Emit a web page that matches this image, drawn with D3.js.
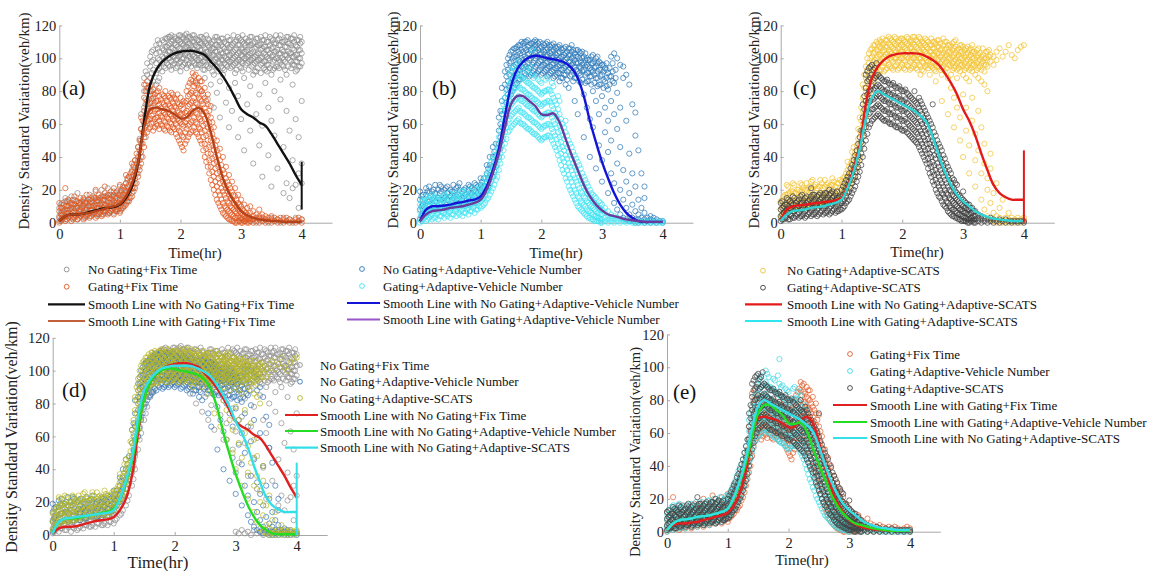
<!DOCTYPE html>
<html>
<head>
<meta charset="utf-8">
<script src="https://cdn.jsdelivr.net/npm/d3@7"></script>
<style>
body { margin: 0; background: #fff; }
svg { display: block; font-family: "Liberation Serif", "Times New Roman", serif; }
.axis path, .axis line { stroke: #a8a8a8; }
.axis text { fill: #222; font-size: 14.5px; font-family: "Liberation Serif", serif; }
</style>
</head>
<body>
<svg id="fig" width="1153" height="571"></svg>
<script>
// scatter clouds: each row is "time v v v ..."
var ngFix = [
  "0.00 1 4 9", "0.05 3 7 12", "0.10 2 6 10 15", "0.15 4 8 13", "0.20 3 7 11 16", "0.25 5 9 14",
  "0.30 2 6 10 18", "0.35 4 8 12", "0.40 3 7 11 15", "0.45 5 9 13", "0.50 4 8 12 17", "0.55 6 10 14",
  "0.60 5 9 13 19", "0.65 6 11 15", "0.70 5 10 14 20", "0.75 7 11 16", "0.80 6 10 15 21", "0.85 7 12 17",
  "0.90 6 11 16 19", "0.95 8 13 18", "1.00 7 12 17 22", "1.05 10 15 21", "1.10 12 18 24", "1.15 15 21 28",
  "1.20 18 25 32", "1.25 24 31 38", "1.30 30 38 46", "1.35 40 48 57 66", "1.40 52 60 70 80 88",
  "1.45 62 72 82 90 97", "1.50 70 80 88 95 101", "1.55 78 86 93 99 105", "1.60 84 91 97 103 108",
  "1.65 88 94 99 104 109", "1.70 92 97 101 106 111", "1.75 94 99 103 107 112", "1.80 96 100 104 108 113",
  "1.85 93 98 102 106 110 114", "1.90 97 101 105 109 113", "1.95 95 99 103 107 111",
  "2.00 92 98 102 106 110 114", "2.05 96 100 104 108 112", "2.10 94 99 103 107 111 115",
  "2.15 97 101 105 109 113", "2.20 98 102 106 110 114", "2.25 86 96 100 104 108 112",
  "2.30 96 99 103 107 111", "2.35 80 97 101 105 109 113", "2.40 88 93 98 102 106 110",
  "2.45 75 95 100 104 108 112", "2.50 84 96 101 105 109", "2.55 70 90 98 102 106 111",
  "2.60 79 95 100 104 108 113", "2.65 64 86 97 101 105 110", "2.70 90 94 99 103 107 112",
  "2.75 73 96 100 104 109", "2.80 58 82 98 102 106 111", "2.85 68 95 99 103 108",
  "2.90 85 91 97 101 105 110", "2.95 52 77 99 103 108 113", "3.00 2 63 94 98 102 106 111",
  "3.05 1 44 88 100 104 109", "3.10 3 72 97 101 105 110", "3.15 1 56 83 99 103 108 113",
  "3.20 2 36 90 96 100 104 109", "3.25 0 66 92 98 102 107 112", "3.30 3 47 78 99 103 108",
  "3.35 1 28 59 97 101 106 111", "3.40 2 85 93 98 102 107 114", "3.45 0 41 70 96 100 105 110",
  "3.50 3 22 62 90 101 106 112", "3.55 1 53 80 94 99 104 109", "3.60 2 33 95 100 105 111",
  "3.65 0 75 87 98 103 108 114", "3.70 3 18 46 95 99 104 110", "3.75 1 24 68 90 102 107 113",
  "3.80 2 15 56 99 103 109", "3.85 0 21 38 84 96 101 106 112", "3.90 3 23 63 92 98 102 108",
  "3.95 1 9 30 52 95 100 105 111", "4.00 2 24 36 74 97 103 110",
  "0.025 2 6 11", "0.125 4 8 13", "0.225 3 9 14", "0.325 5 8 12", "0.425 4 9 13", "0.525 6 10 15",
  "0.625 5 9 14", "0.725 7 11 16", "0.825 6 12 17", "0.925 8 12 16", "1.025 9 14 19", "1.125 13 19 26",
  "1.225 21 28 35", "1.325 34 42 51", "1.425 58 66 75 84 92", "1.525 74 84 91 98 104", "1.625 86 93 100 106 111",
  "1.725 95 100 105 110", "1.775 97 102 107 112", "1.825 95 100 104 109 113", "1.875 96 101 106 111",
  "1.925 94 99 103 108 112", "1.975 97 101 106 111 114", "2.025 95 100 104 109 113", "2.075 97 102 106 110 114",
  "2.125 96 101 105 109 113", "2.175 95 100 104 108 112", "2.225 97 101 105 110 114", "2.275 94 99 103 107 111",
  "2.325 96 100 105 109 113", "2.375 93 98 103 108 112", "2.425 96 100 104 109 114", "2.475 94 99 103 107 111",
  "2.525 92 97 102 106 110", "2.575 95 99 104 108 113", "2.625 92 98 102 107 111", "2.675 95 99 103 108 112",
  "2.725 93 97 101 106 110", "2.775 95 99 104 108 113", "2.825 94 98 102 107 111", "2.875 96 100 104 109 114",
  "2.925 93 98 102 106 111", "2.975 95 99 104 108 112", "3.025 92 97 101 105 110 114", "3.075 96 100 104 108 112",
  "3.125 93 98 102 107 111", "3.175 95 99 103 108 113", "3.225 92 97 101 106 110", "3.275 94 99 103 108 112",
  "3.325 91 96 100 105 109 113", "3.375 94 98 103 107 111", "3.425 92 96 101 105 110", "3.475 94 99 103 108 113",
  "3.525 93 98 102 107 111", "3.575 95 100 104 109 114", "3.625 94 99 103 108 112", "3.675 96 100 105 110",
  "3.725 93 98 102 107 111", "3.775 95 100 104 109 113", "3.825 94 98 103 108 112", "3.875 96 101 105 110 114",
  "3.925 93 98 102 107 111", "3.975 95 100 105 109 113"
];
var gFix = [
  "0.00 0 3 7 12", "0.05 2 5 9", "0.10 1 4 8 13 21", "0.15 3 6 10 14", "0.20 1 5 9 12", "0.25 3 7 11 16",
  "0.30 2 5 9 13", "0.35 4 7 11 15", "0.40 2 6 10 14", "0.45 4 8 12 17", "0.50 3 6 10 14", "0.55 5 8 12 16",
  "0.60 3 7 11 15 20", "0.65 5 9 13 17", "0.70 4 8 12 16", "0.75 6 10 14 18 22", "0.80 5 9 13 17",
  "0.85 7 10 14 19", "0.90 5 9 13 17 21", "0.95 7 11 15 19", "1.00 6 10 14 18 23", "1.05 9 13 17 22",
  "1.10 11 15 19 24 29", "1.15 13 18 23 28", "1.20 16 21 26 31 36", "1.25 21 27 33 38", "1.30 28 34 40 46",
  "1.35 36 43 50 57 64", "1.40 46 54 61 68 76 84", "1.45 55 62 68 74 80 86", "1.50 58 63 68 73 78 83",
  "1.55 56 61 66 71 76 81", "1.60 60 64 69 74 79", "1.65 57 62 67 72 77 82", "1.70 59 64 68 73 78",
  "1.75 56 61 66 71 76 80", "1.80 58 63 67 72 77", "1.85 55 60 65 70 75 79", "1.90 57 62 66 71 76",
  "1.95 52 58 63 68 73 78", "2.00 48 55 61 66 71 76", "2.05 44 52 59 64 69 74", "2.10 50 57 63 68 74 80",
  "2.15 54 60 66 72 78 85", "2.20 56 62 68 74 80 86 91", "2.25 55 61 67 73 79 85 90",
  "2.30 52 58 64 70 76 82 88", "2.35 48 55 62 68 74 80 86", "2.40 40 48 56 63 70 76 82",
  "2.45 34 42 50 58 65 72 78", "2.50 26 34 42 50 57 64 71", "2.55 20 28 36 44 51 58", "2.60 14 22 30 37 44 50",
  "2.65 10 17 24 31 38 45", "2.70 6 12 19 25 32 40", "2.75 4 9 15 21 27 34", "2.80 2 7 12 17 23 29",
  "2.85 1 5 9 14 19 25", "2.90 0 3 7 11 16 21", "2.95 1 4 8 12 17", "3.00 0 3 6 10 14", "3.05 1 4 7 11",
  "3.10 0 2 5 9", "3.15 1 3 6 10", "3.20 0 2 4 7", "3.25 1 3 5", "3.30 0 2 4 8", "3.35 1 3 5", "3.40 0 2 4",
  "3.45 1 3", "3.50 0 2 4", "3.55 1 3", "3.60 0 2", "3.65 1 3", "3.70 0 2", "3.75 1 3", "3.80 0 2", "3.85 1",
  "3.90 0 2", "3.95 1 3", "4.00 0 2",
  "0.025 1 5 9", "0.075 3 7 11", "0.125 2 6 10", "0.175 4 8 12", "0.225 2 6 11", "0.275 4 9 13",
  "0.325 3 7 12", "0.375 5 9 13", "0.425 3 8 12", "0.475 5 10 14", "0.525 4 8 13", "0.575 6 10 15",
  "0.625 4 9 13", "0.675 6 11 15", "0.725 5 9 14", "0.775 7 11 16", "0.825 6 10 15", "0.875 8 12 16",
  "0.925 7 11 15", "0.975 8 12 17", "1.025 8 12 16 20", "1.075 10 15 20", "1.125 13 17 22 27",
  "1.175 15 20 25 30", "1.225 19 24 29 34", "1.275 24 30 36 42", "1.325 32 38 44 50", "1.375 40 48 55 62",
  "1.425 52 59 65 72 80", "1.475 57 63 69 75 82", "1.525 60 65 70 75 80", "1.575 58 63 68 73 78",
  "1.625 59 64 69 74 80", "1.675 60 65 70 75", "1.725 57 62 67 72 77", "1.775 59 64 69 74",
  "1.825 56 61 66 71 76", "1.875 58 63 68 73 78", "1.925 54 60 65 70 75", "1.975 50 56 62 67 72",
  "2.025 46 53 60 66 72", "2.075 48 55 61 67 73", "2.125 52 59 65 71 77 83", "2.175 55 61 67 73 79 87",
  "2.225 58 64 70 76 83 89", "2.275 54 60 66 72 78 84", "2.325 50 57 63 69 75 81 86", "2.375 44 52 59 66 72 78",
  "2.425 37 45 53 60 67 74", "2.475 30 38 46 54 61 68", "2.525 23 31 39 47 54 61", "2.575 17 25 33 40 47",
  "2.625 12 19 27 34 41", "2.675 8 14 21 28 35", "2.725 5 10 17 23 30", "2.775 3 8 13 19 25",
  "2.825 2 6 10 15 21", "2.875 1 4 8 12 17", "2.925 0 3 6 10 14", "2.975 1 3 7 11", "3.025 0 2 5 8",
  "3.075 1 3 6", "3.125 0 2 4"
];
var ngAvn = [
  "0.00 2 8 14 19", "0.05 5 11 17", "0.10 7 12 17 21", "0.15 8 13 18 22", "0.20 9 14 19", "0.25 8 13 18 23",
  "0.30 10 15 20", "0.35 9 14 19 22", "0.40 10 15 20", "0.45 9 14 18 22", "0.50 11 16 20", "0.55 10 15 19 23",
  "0.60 11 16 21", "0.65 12 16 20 24", "0.70 11 15 19", "0.75 12 17 21", "0.80 11 16 20 23", "0.85 13 17 21",
  "0.90 12 16 20 24", "0.95 14 18 22", "1.00 15 19 23 27", "1.05 18 22 27", "1.10 20 25 30 35",
  "1.15 24 29 35 40", "1.20 28 34 40 46", "1.25 34 41 48", "1.30 40 48 56 64", "1.35 50 58 66 74 82",
  "1.40 60 68 76 84 92", "1.45 70 78 86 93 100", "1.50 78 85 92 98 104", "1.55 82 89 95 101 106",
  "1.60 85 91 97 102 107", "1.65 87 93 98 103 108", "1.70 88 94 99 104 109", "1.75 90 95 100 105 110",
  "1.80 89 94 99 103 108", "1.85 91 96 101 105 109", "1.90 90 95 100 104 108 111", "1.95 92 97 101 105 109",
  "2.00 90 95 99 103 107", "2.05 92 96 100 104 108", "2.10 89 94 98 102 106 110", "2.15 91 95 99 103 107",
  "2.20 88 93 97 101 105 109", "2.25 90 94 98 102 106", "2.30 86 91 96 100 104 108", "2.35 88 93 97 101 105",
  "2.40 84 90 95 99 103 107", "2.45 82 93 98 102 106", "2.50 90 96 100 104 108", "2.55 74 88 95 99 103",
  "2.60 66 92 97 101 105", "2.65 85 90 94 98 103", "2.70 52 78 93 97 101", "2.75 70 86 91 96 100",
  "2.80 40 63 89 94 99", "2.85 58 80 92 97 102", "2.90 33 74 88 95 100", "2.95 47 66 84 93 98",
  "3.00 25 38 77 90 96", "3.05 55 70 86 94", "3.10 18 43 62 81 91", "3.15 30 50 74 89 101",
  "3.20 12 24 66 85 103", "3.25 8 36 57 79 100", "3.30 5 20 46 70 96", "3.35 3 14 32 88 95",
  "3.40 2 9 25 62 90", "3.45 1 5 18 42 84", "3.50 1 3 11 30 72", "3.55 0 2 7 22 53 67", "3.60 0 2 5 14 44",
  "3.65 1 3 9 30", "3.70 0 2 6 15 22", "3.75 1 3", "3.80 0 2 4", "3.85 1 3", "3.90 0 2", "3.95 1", "4.00 0 1",
  "0.025 4 10 16", "0.125 8 13 19", "0.225 10 15 20", "0.325 9 14 18 23", "0.425 11 16 21", "0.525 10 14 19",
  "0.625 12 17 22", "0.725 11 16 20", "0.825 13 18 22", "0.925 14 19 23", "1.025 17 21 25", "1.125 22 27 33",
  "1.225 31 37 43", "1.325 45 52 60 68", "1.425 65 73 81 89 96", "1.475 74 82 90 97 102", "1.525 80 88 94 100 105",
  "1.575 84 90 96 101 106", "1.625 87 93 99 104 108", "1.675 89 95 100 105 110", "1.725 91 96 101 106 110",
  "1.775 92 97 102 107 111", "1.825 90 95 100 105 109", "1.875 92 97 102 106 110", "1.925 91 96 101 106 110",
  "1.975 93 98 102 106 110", "2.025 91 96 101 105 109", "2.075 93 97 101 105 109", "2.125 90 95 100 104 108",
  "2.175 92 96 100 104 108", "2.225 89 94 99 103 107", "2.275 91 95 99 103 107", "2.325 88 93 97 101 106",
  "2.375 90 94 98 102 106", "2.425 87 92 96 100 104", "2.475 89 94 98 102 106", "2.525 86 92 97 101 105",
  "2.575 88 93 97 101 105", "2.625 86 91 95 100 104", "2.675 87 92 96 100 104", "2.725 85 90 95 99 103",
  "2.775 86 91 95 99", "2.825 84 89 93 97 101", "2.875 85 90 94 98", "2.925 83 88 92 97 101", "2.975 84 89 93 97",
  "3.025 82 87 92 96", "3.075 83 88 93 97", "3.125 84 89 94", "3.175 86 92 97", "3.225 88 93"
];
var gAvn = [
  "0.00 0 3 7 11", "0.05 2 5 9 13", "0.10 1 4 8 12 16", "0.15 3 6 10 14", "0.20 2 5 9 13 17", "0.25 3 7 11 15",
  "0.30 2 6 10 14", "0.35 4 7 11 15", "0.40 3 6 10 14 17", "0.45 4 8 12 16", "0.50 3 7 11 15", "0.55 5 9 13 17",
  "0.60 4 8 12 16", "0.65 5 9 13 17", "0.70 4 8 12 16 19", "0.75 6 10 14 18", "0.80 5 9 13 17",
  "0.85 7 11 15 19", "0.90 6 10 14 18", "0.95 8 12 16 20", "1.00 9 13 17 21", "1.05 11 15 20 25",
  "1.10 14 19 24 29", "1.15 17 22 28 34", "1.20 21 27 33 39", "1.25 26 32 38 44", "1.30 32 38 45 52",
  "1.35 40 47 54 61 68", "1.40 48 55 62 69 76", "1.45 55 62 69 76 83", "1.50 58 65 72 79 86 92",
  "1.55 60 67 74 81 88 95", "1.60 62 69 76 83 90", "1.65 61 68 75 82 89 96", "1.70 60 67 74 81 88",
  "1.75 58 65 72 79 86 93", "1.80 57 64 71 78 85", "1.85 55 62 69 76 83 90 105", "1.90 54 61 68 75 82 89",
  "1.95 52 59 66 73 80 87", "2.00 50 57 64 71 78 85", "2.05 52 59 66 73 80", "2.10 53 60 67 74 81 88",
  "2.15 52 59 66 73 80", "2.20 48 55 62 69 76 83", "2.25 44 51 58 65 72", "2.30 38 45 52 59 66 74",
  "2.35 32 39 46 53 60", "2.40 27 34 41 48 55 62", "2.45 22 29 36 43 50", "2.50 18 25 32 39 46",
  "2.55 14 20 27 34 41", "2.60 10 16 23 30 37", "2.65 8 13 19 26 33", "2.70 6 11 16 22 28",
  "2.75 4 8 13 18 24", "2.80 3 7 11 15 20", "2.85 2 5 9 13 17", "2.90 1 4 7 11 15", "2.95 1 3 6 9 13",
  "3.00 0 2 5 8 11", "3.05 1 3 6 9", "3.10 0 2 4 7", "3.15 1 3 5", "3.20 0 2 4", "3.25 1 3", "3.30 0 2",
  "3.35 1 2", "3.40 0 1", "3.45 1", "3.50 0 1", "3.55 0", "3.60 0 1", "3.65 0", "3.70 0 1", "3.75 0",
  "3.80 0 1", "3.85 0", "3.90 0 1", "3.95 0", "4.00 0 1",
  "0.025 1 5 9 13", "0.075 3 7 11 15", "0.125 2 6 10 14", "0.175 4 8 12 16", "0.225 3 7 11 15",
  "0.275 5 9 13 16", "0.325 4 8 12", "0.375 6 9 13 16", "0.425 5 9 12", "0.475 6 10 14 18", "0.525 5 9 13",
  "0.575 7 11 15 18", "0.625 6 10 14", "0.675 7 11 15 19", "0.725 6 10 14", "0.775 8 12 16 20", "0.825 7 11 15",
  "0.875 9 13 17 21", "0.925 8 12 16", "0.975 10 14 18 22", "1.025 10 14 18 23", "1.075 12 17 22 27",
  "1.125 15 20 26 31", "1.175 19 25 31 37", "1.225 23 29 35 41", "1.275 28 35 42 48", "1.325 36 42 49 56",
  "1.375 44 51 58 65 72", "1.425 51 58 65 72 79", "1.475 56 63 70 77 84 90", "1.525 59 66 73 80 87 94",
  "1.575 61 68 75 82 89", "1.625 63 70 77 84 91 98", "1.675 60 67 74 81 88 94", "1.725 59 66 73 80 87",
  "1.775 57 64 71 78 85 92", "1.825 56 63 70 77 84 95", "1.875 54 61 68 75 82 88", "1.925 53 60 67 74 81",
  "1.975 51 58 65 72 79 86", "2.025 51 58 65 72 79", "2.075 52 59 66 73 80 87", "2.125 53 60 67 74 81",
  "2.175 50 57 64 71 78 85", "2.225 46 53 60 67 74", "2.275 41 48 55 62 69 77", "2.325 35 42 49 56 63",
  "2.375 30 37 44 51 58", "2.425 25 32 39 46 53", "2.475 20 27 34 41 48", "2.525 16 22 29 36 43",
  "2.575 12 18 25 32 39", "2.625 9 15 21 28 35", "2.675 7 12 18 24 30", "2.725 5 10 15 20 26",
  "2.775 3 7 12 17 22", "2.825 2 6 10 14 18", "2.875 1 4 8 12 16", "2.925 1 3 6 10", "2.975 0 2 5 8 12"
];
var ngScats = [
  "0.00 3 8 13", "0.05 6 11 16", "0.10 7 12 17 23", "0.15 8 13 18", "0.20 9 14 19 24", "0.25 8 13 18",
  "0.30 10 15 20", "0.35 9 14 19 23", "0.40 10 15 20", "0.45 11 16 21", "0.50 10 15 20 25", "0.55 12 17 22",
  "0.60 11 16 21", "0.65 12 17 22 26", "0.70 11 16 21", "0.75 13 18 23", "0.80 12 17 22", "0.85 13 18 23 27",
  "0.90 12 17 22", "0.95 14 19 24", "1.00 15 20 25", "1.05 18 23 28", "1.10 21 26 32 37", "1.15 24 30 36",
  "1.20 28 34 40 46", "1.25 33 40 47", "1.30 40 48 56 64", "1.35 52 60 68 76 84", "1.40 64 72 80 88 95",
  "1.45 76 84 91 97 103", "1.50 84 90 96 101 106", "1.55 88 94 99 104 108", "1.60 91 96 101 105 109",
  "1.65 93 98 102 106 110", "1.70 92 97 101 105 109", "1.75 94 99 103 107 111", "1.80 95 100 104 108 112",
  "1.85 93 98 102 106 110", "1.90 96 100 104 108 112", "1.95 94 99 103 107 111", "2.00 96 100 104 108 112",
  "2.05 93 98 102 106 110", "2.10 95 100 104 108 112", "2.15 94 99 103 107 111", "2.20 96 100 104 108 113",
  "2.25 93 98 102 106 110", "2.30 90 95 100 104 108 112", "2.35 92 97 101 105 109",
  "2.40 96 99 103 107 111", "2.45 90 96 100 104 108", "2.50 94 97 102 106 110", "2.55 86 92 96 100 104 109",
  "2.60 95 99 103 107 111", "2.65 74 90 94 98 102 106", "2.70 92 97 101 105 110", "2.75 66 88 96 100 104 108",
  "2.80 82 90 95 99 103 107", "2.85 58 76 94 98 102 106 110", "2.90 70 88 93 97 101 105",
  "2.95 50 64 92 96 100 104 108", "3.00 40 78 90 95 99 103 107", "3.05 56 70 88 94 98 102 106",
  "3.10 30 47 86 93 97 101 105", "3.15 62 76 92 96 100 104 108", "3.20 22 38 54 90 95 99 103",
  "3.25 44 68 88 94 98 102 106", "3.30 14 30 58 86 93 97 101", "3.35 8 36 48 84 92 96 100",
  "3.40 4 20 27 80 95 99 104", "3.45 2 12 33 42 98 102", "3.50 1 6 18 96 101", "3.55 0 4 24 99 104",
  "3.60 1 3 9 106", "3.65 0 2 14 101", "3.70 1 3 104", "3.75 0 2 6 108", "3.80 1 3 102", "3.85 0 2 100",
  "3.90 1 3 105", "3.95 0 2 107", "4.00 1 3 108",
  "0.025 4 9 14", "0.075 6 11 17", "0.125 8 13 18 22", "0.175 9 14 19", "0.225 8 13 18 23", "0.275 10 15 20",
  "0.325 9 14 19 24", "0.375 11 16 21", "0.425 10 15 20 24", "0.475 12 17 22", "0.525 11 16 21 26",
  "0.575 13 18 23", "0.625 12 17 22", "0.675 13 18 24", "0.725 12 17 22 26", "0.775 14 19 24", "0.825 13 18 23",
  "0.875 15 20 25", "0.925 14 19 24", "0.975 16 21 26", "1.025 17 22 27", "1.075 20 25 30", "1.125 23 28 34",
  "1.175 26 32 38 43", "1.225 31 37 43", "1.275 37 44 51 57", "1.325 46 54 62 70", "1.375 58 66 74 82 90",
  "1.425 70 78 86 93 100", "1.475 80 87 94 100 105", "1.525 86 92 98 103 108", "1.575 90 95 100 105 110",
  "1.625 92 97 102 107 111", "1.675 95 100 104 108 112", "1.725 93 98 102 107 111", "1.775 96 101 105 109 113",
  "1.825 94 99 103 107 111", "1.875 95 100 105 109 113", "1.925 93 98 102 106 110", "1.975 95 100 104 108 112",
  "2.025 94 99 103 107 111", "2.075 96 101 105 109 113", "2.125 93 98 102 106 110", "2.175 95 100 104 109 113",
  "2.225 94 99 103 107 111", "2.275 96 100 105 109 113", "2.325 93 98 102 106 110", "2.375 95 100 104 108 112",
  "2.425 94 98 102 106 110", "2.475 95 100 104 108 112", "2.525 93 98 102 106 110", "2.575 95 99 103 107 111",
  "2.625 93 97 101 105 109", "2.675 95 99 103 108 112", "2.725 94 98 102 106 110", "2.775 96 100 104 108",
  "2.825 93 97 101 105 109", "2.875 95 99 103 107 111", "2.925 94 98 102 106", "2.975 96 100 104 108",
  "3.025 93 97 101 105", "3.075 95 99 103 107", "3.125 94 98 102 106", "3.175 96 100 104", "3.225 93 97 101 105",
  "3.275 95 99 103", "3.325 98 102 106", "3.375 96 100 104", "3.425 101 105"
];
var gScats = [
  "0.00 1 4 8 12", "0.05 2 6 10", "0.10 3 7 11 15", "0.15 2 5 9 13", "0.20 3 7 11 16", "0.25 4 8 12",
  "0.30 3 6 10 14", "0.35 4 8 12 17", "0.40 3 7 11 15", "0.45 5 9 13", "0.50 4 8 12 16 21", "0.55 5 9 13 17",
  "0.60 4 8 12 16", "0.65 6 10 14 18", "0.70 5 9 13 17", "0.75 6 10 14 18", "0.80 5 9 13 17 20",
  "0.85 7 11 15 19", "0.90 6 10 14 18", "0.95 7 11 15", "1.00 8 12 16 20", "1.05 10 14 19 24",
  "1.10 13 18 23 28", "1.15 16 21 27 33", "1.20 20 26 32 38", "1.25 25 31 38 44", "1.30 31 38 45 52",
  "1.35 40 48 56 64 72", "1.40 50 58 66 74 82 90", "1.45 58 66 73 80 87 94", "1.50 62 69 76 83 90 96",
  "1.55 64 70 76 82 88 94", "1.60 66 72 78 84 90", "1.65 64 70 76 82 88", "1.70 62 68 74 80 86",
  "1.75 63 69 75 81 87", "1.80 60 66 72 78 84", "1.85 61 67 73 79 85", "1.90 58 64 70 76 82",
  "1.95 59 65 71 77 83", "2.00 56 62 68 74 80", "2.05 57 63 69 75 81", "2.10 54 60 66 72 78",
  "2.15 52 58 64 70 76", "2.20 50 56 62 68 74 80", "2.25 48 54 60 66 72", "2.30 44 50 56 62 68 74",
  "2.35 40 46 52 58 64 70", "2.40 36 42 48 54 60 66", "2.45 30 36 42 48 55 62", "2.50 25 31 37 44 50 58 72",
  "2.55 20 26 32 39 46 53", "2.60 16 22 28 34 41 48", "2.65 13 18 24 30 37 44", "2.70 10 15 20 26 32 39",
  "2.75 7 12 17 22 28 34", "2.80 5 9 14 19 24 30", "2.85 4 8 12 16 21 26", "2.90 3 6 10 14 18 23",
  "2.95 2 5 8 12 16", "3.00 1 4 7 10 14 19", "3.05 1 3 6 9 12", "3.10 0 2 5 8 11", "3.15 1 3 6 9",
  "3.20 0 2 4 7", "3.25 1 3 5", "3.30 0 2 4", "3.35 1 3", "3.40 0 2", "3.45 1 3", "3.50 0 2", "3.55 1",
  "3.60 0 2", "3.65 1", "3.70 0 2", "3.75 1", "3.80 0 1", "3.85 1", "3.90 0 1", "3.95 1", "4.00 0 1",
  "0.025 2 5 9 13", "0.075 3 7 11", "0.125 2 6 10 14", "0.175 4 8 12", "0.225 3 7 11 15", "0.275 5 9 13",
  "0.325 4 8 12 16", "0.375 5 9 13", "0.425 4 8 12 16", "0.475 6 10 14", "0.525 5 9 13 17", "0.575 6 10 14",
  "0.625 5 9 13 17", "0.675 7 11 15", "0.725 6 10 14 18", "0.775 7 11 15", "0.825 6 10 14 18", "0.875 8 12 16",
  "0.925 7 11 15 19", "0.975 8 12 16", "1.025 9 13 17 22", "1.075 12 16 21 26", "1.125 14 19 25 30",
  "1.175 18 24 30 35", "1.225 22 28 35 41", "1.275 28 34 41 48", "1.325 35 42 49 56", "1.375 45 53 61 69 77",
  "1.425 54 62 70 78 86 92", "1.475 60 67 74 81 88 95", "1.525 63 69 75 81 87 93", "1.575 65 71 77 83 89 97",
  "1.625 65 71 77 83 89", "1.675 63 69 75 81 87", "1.725 62 68 74 80 86", "1.775 61 67 73 79 85",
  "1.825 60 66 72 78 84", "1.875 59 65 71 77 83", "1.925 58 64 70 76 82", "1.975 57 63 69 75 81",
  "2.025 56 62 68 74 80", "2.075 55 61 67 73 79", "2.125 53 59 65 71 77", "2.175 51 57 63 69 75",
  "2.225 49 55 61 67 73", "2.275 46 52 58 64 70 76", "2.325 42 48 54 60 66 72", "2.375 38 44 50 56 62 68",
  "2.425 33 39 45 51 57 64", "2.475 28 34 40 46 52 60", "2.525 23 29 35 41 48 55", "2.575 18 24 30 36 43 50",
  "2.625 15 20 26 32 39 46", "2.675 11 17 22 28 35 41", "2.725 9 13 18 24 30 36", "2.775 6 10 15 20 26 32",
  "2.825 4 8 13 17 22 27", "2.875 3 7 11 15 19 24", "2.925 2 5 9 13 17", "2.975 1 4 8 11 15",
  "3.025 1 3 6 9 13", "3.075 0 2 5 8 11", "3.125 1 3 6 9", "3.175 0 2 4 7"
];

// smooth lines, sampled every 0.1 hr
var lineT = [0, 0.1, 0.2, 0.3, 0.4, 0.5, 0.6, 0.7, 0.8, 0.9, 1.0, 1.1, 1.2, 1.3, 1.4, 1.5, 1.6, 1.7, 1.8, 1.9, 2.0,
  2.1, 2.2, 2.3, 2.4, 2.5, 2.6, 2.7, 2.8, 2.9, 3.0, 3.1, 3.2, 3.3, 3.4, 3.5, 3.6, 3.7, 3.8, 3.9, 4.0];
var lineNgFix = [1, 4, 5, 5, 5.5, 6.5, 7.5, 8.5, 9, 9.5, 11, 15, 22, 36, 62, 84, 93, 98, 101, 103, 104,
  104.5, 104.5, 103.5, 102, 98, 94, 89, 83, 76, 69, 66, 64, 61, 59, 54, 48, 42, 36, 29, 23];
var lineGFix = [1, 4, 5, 5, 5.5, 6, 7, 8, 9, 10, 11.5, 16, 24, 37, 58, 69, 70, 69, 68, 66, 63.5,
  64, 68, 70, 66, 55, 40, 27, 18, 12, 7, 4.5, 3, 2, 1.5, 1, 1, 0.5, 0.5, 0.5, 0.5];
var lineNgAvn = [1, 8, 10, 10, 10.5, 11, 12, 12.5, 13.5, 14, 16, 22, 32, 45, 65, 83, 93, 98, 100.5, 101.5, 101,
  100, 99.5, 98.5, 97, 94, 88, 77, 62, 49, 37, 27, 18, 11, 6, 3, 1, 0.5, 0.5, 0.5, 0.5];
var lineGAvn = [1, 5, 7, 7.5, 8, 9, 9.5, 10, 11, 12, 14, 20, 30, 42, 58, 72, 77, 77, 74, 71, 66,
  65.5, 66.5, 61, 51, 41, 32, 23, 16, 11, 7.5, 5, 4, 3, 2, 1.5, 1, 0.5, 0.5, 0.5, 0.5];
var lineNgScats = [1, 8, 10, 10.5, 11, 11.5, 12, 12.5, 13, 13.5, 15, 22, 33, 47, 72, 88, 95, 99, 101.5, 102.5, 103,
  103, 103, 102.5, 101, 99, 96, 91, 85, 78, 69, 62, 53, 42, 32, 23, 18, 15.5, 14, 14, 14];
var lineGScats = [1, 5, 7, 7.5, 8, 9, 9.5, 10, 11, 12, 14, 21, 31, 45, 63, 76, 80, 78, 76, 74, 72,
  70, 68, 65, 61, 52, 41, 31, 23, 17, 13, 10, 7, 5, 3.5, 2.5, 2, 1.5, 1, 1, 1];

// vertical end spikes at t = 4 : [low, high]
var spikeNgFix = [8, 37];
var spikeNgScats = [0, 44];

var yTicks = [0, 20, 40, 60, 80, 100, 120];
var xTicks = [0, 1, 2, 3, 4];

function rows(list) {
  var out = [];
  list.forEach(function (r) {
    var p = r.split(' ').map(Number);
    for (var j = 1; j < p.length; j++) out.push([p[0], p[j]]);
  });
  return out;
}

var panels = [
  { tag: '(a)', x0: 59.3, x1: 332, y0: 222.7, y1: 25.4, tagPos: [62, 95], ylab: [24, 121, 15], xlab: [195, 258, 15],
    scatter: [[ngFix, '#8c8c8c'], [gFix, '#e0561e']],
    lines: [[lineNgFix, '#111111'], [lineGFix, '#b4431a']],
    spikes: [[spikeNgFix, '#111111']],
    legend: { cx: 66.7, l0: 48, l1: 85, tx: 88, rows: [269.5, 286.7, 304.3, 321],
      items: [['c', '#8c8c8c', 'No Gating+Fix Time'], ['c', '#e0561e', 'Gating+Fix Time'],
        ['l', '#111111', 'Smooth Line with No Gating+Fix Time'], ['l', '#c0603c', 'Smooth Line with Gating+Fix Time']] } },
  { tag: '(b)', x0: 420, x1: 693, y0: 222.7, y1: 25.4, tagPos: [432, 95], ylab: [393, 120, 15], xlab: [556, 258, 15],
    scatter: [[ngAvn, '#2a78b8'], [gAvn, '#3fe3f2']],
    lines: [[lineNgAvn, '#1414d8'], [lineGAvn, '#6a3a9c']],
    spikes: [],
    legend: { cx: 362, l0: 347, l1: 380, tx: 383, rows: [269, 286, 303, 319.5],
      items: [['c', '#2a78b8', 'No Gating+Adaptive-Vehicle Number'], ['c', '#3fe3f2', 'Gating+Adaptive-Vehicle Number'],
        ['l', '#1414d8', 'Smooth Line with No Gating+Adaptive-Vehicle Number'], ['l', '#9a55c8', 'Smooth Line with Gating+Adaptive-Vehicle Number']] } },
  { tag: '(c)', x0: 780.7, x1: 1054.3, y0: 222.7, y1: 25.4, tagPos: [793, 95], ylab: [754, 120, 15], xlab: [917, 257, 15],
    scatter: [[ngScats, '#f2c12e'], [gScats, '#3c3c3c']],
    lines: [[lineNgScats, '#e41a1a'], [lineGScats, '#2ed3d3']],
    spikes: [[spikeNgScats, '#e41a1a']],
    legend: { cx: 763, l0: 745, l1: 782, tx: 787, rows: [270.7, 287.7, 304.3, 321],
      items: [['c', '#f2c12e', 'No Gating+Adaptive-SCATS'], ['c', '#3c3c3c', 'Gating+Adaptive-SCATS'],
        ['l', '#e41a1a', 'Smooth Line with No Gating+Adaptive-SCATS'], ['l', '#2ee6ee', 'Smooth Line with Gating+Adaptive-SCATS']] } },
  { tag: '(d)', x0: 52.7, x1: 327.2, y0: 535, y1: 337.8, tagPos: [62, 397], ylab: [11, 437, 16], xlab: [158, 568, 17],
    scatter: [[ngFix, '#909090'], [ngAvn, '#3a78b8'], [ngScats, '#b8b820']],
    lines: [[lineNgFix, '#e02020'], [lineNgAvn, '#22dd22'], [lineNgScats, '#33e0e8']],
    spikes: [[spikeNgScats, '#33e0e8']],
    legend: { cx: 300, l0: 285, l1: 318, tx: 320, rows: [365, 381.7, 398, 415, 431, 447.7],
      items: [['c', '#909090', 'No Gating+Fix Time'], ['c', '#3a78b8', 'No Gating+Adaptive-Vehicle Number'],
        ['c', '#b8b820', 'No Gating+Adaptive-SCATS'], ['l', '#e02020', 'Smooth Line with No Gating+Fix Time'],
        ['l', '#22dd22', 'Smooth Line with No Gating+Adaptive-Vehicle Number'], ['l', '#33e0e8', 'Smooth Line with No Gating+Adaptive-SCATS']] } },
  { tag: '(e)', x0: 667, x1: 940.4, y0: 531.7, y1: 334.4, tagPos: [673, 399], ylab: [635, 452, 14.5], xlab: [802, 565, 15],
    scatter: [[gFix, '#e06030'], [gAvn, '#40d8e4'], [gScats, '#404040']],
    lines: [[lineGFix, '#e02020'], [lineGAvn, '#22dd22'], [lineGScats, '#33e0e8']],
    spikes: [],
    legend: { cx: 850, l0: 833, l1: 867, tx: 870, rows: [354, 371, 388, 405, 422, 438],
      items: [['c', '#e06030', 'Gating+Fix Time'], ['c', '#40d8e4', 'Gating+Adaptive-Vehicle Number'],
        ['c', '#404040', 'Gating+Adaptive-SCATS'], ['l', '#e02020', 'Smooth Line with Gating+Fix Time'],
        ['l', '#22dd22', 'Smooth Line with Gating+Adaptive-Vehicle Number'], ['l', '#33e0e8', 'Smooth Line with No Gating+Adaptive-SCATS']] } }
];

var svg = d3.select('#fig');

panels.forEach(function (p) {
  var g = svg.append('g');
  var x = d3.scaleLinear().domain([0, 4.5]).range([p.x0, p.x1]);
  var y = d3.scaleLinear().domain([0, 120]).range([p.y0, p.y1]);

  g.append('g').attr('class', 'axis')
    .attr('transform', 'translate(0,' + p.y0 + ')')
    .call(d3.axisBottom(x).tickValues(xTicks).tickFormat(d3.format('d'))
      .tickSizeInner(-3).tickSizeOuter(0).tickPadding(6));
  g.append('g').attr('class', 'axis')
    .attr('transform', 'translate(' + p.x0 + ',0)')
    .call(d3.axisLeft(y).tickValues(yTicks).tickFormat(d3.format('d'))
      .tickSizeInner(-3).tickSizeOuter(0).tickPadding(3));

  p.scatter.forEach(function (s) {
    g.append('g').selectAll('circle')
      .data(rows(s[0]))
      .join('circle')
      .attr('cx', function (d) { return x(d[0]); })
      .attr('cy', function (d) { return y(d[1]); })
      .attr('r', 2.6)
      .attr('fill', 'none')
      .attr('stroke', s[1])
      .attr('stroke-width', 0.85)
      .attr('stroke-opacity', 0.85);
  });

  var line = d3.line()
    .x(function (d, i) { return x(lineT[i]); })
    .y(function (d) { return y(d); })
    .curve(d3.curveCatmullRom);
  p.lines.forEach(function (l) {
    g.append('path').attr('d', line(l[0]))
      .attr('fill', 'none').attr('stroke', l[1]).attr('stroke-width', 2.4);
  });
  p.spikes.forEach(function (s) {
    g.append('line')
      .attr('x1', x(4)).attr('x2', x(4))
      .attr('y1', y(s[0][0])).attr('y2', y(s[0][1]))
      .attr('stroke', s[1]).attr('stroke-width', 2);
  });

  g.append('text').attr('x', p.tagPos[0]).attr('y', p.tagPos[1])
    .attr('font-size', 21).attr('fill', '#111').text(p.tag);

  g.append('text')
    .attr('transform', 'translate(' + p.ylab[0] + ',' + p.ylab[1] + ') rotate(-90)')
    .attr('text-anchor', 'middle').attr('dy', '0.35em')
    .attr('font-size', p.ylab[2]).attr('fill', '#222')
    .text('Density Standard Variation(veh/km)');
  g.append('text').attr('x', p.xlab[0]).attr('y', p.xlab[1])
    .attr('text-anchor', 'middle').attr('font-size', p.xlab[2]).attr('fill', '#222')
    .text('Time(hr)');

  var lg = p.legend;
  lg.items.forEach(function (it, i) {
    var yy = lg.rows[i];
    if (it[0] === 'c') {
      g.append('circle').attr('cx', lg.cx).attr('cy', yy).attr('r', 2.4)
        .attr('fill', 'none').attr('stroke', it[1]).attr('stroke-width', 0.9);
    } else {
      g.append('line').attr('x1', lg.l0).attr('x2', lg.l1).attr('y1', yy).attr('y2', yy)
        .attr('stroke', it[1]).attr('stroke-width', 2.2);
    }
    g.append('text').attr('x', lg.tx).attr('y', yy).attr('dy', '0.35em')
      .attr('font-size', 13).attr('fill', '#111').text(it[2]);
  });
});
</script>
</body>
</html>
